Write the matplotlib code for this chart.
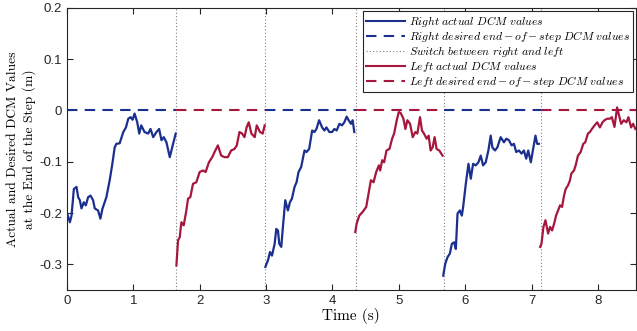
import numpy as np
import matplotlib
matplotlib.use("Agg")
import matplotlib.pyplot as plt
from matplotlib.lines import Line2D

plt.rcParams['mathtext.fontset'] = 'cm'
plt.rcParams['axes.unicode_minus'] = False
plt.rcParams['font.family'] = ['Liberation Sans', 'DejaVu Sans']

# switch instants (s)
switch_t = [1.64, 2.99, 4.35, 5.68, 7.14]
t_end = 8.57

# step 1 - right
r1_t = [0.005, 0.045, 0.07, 0.105, 0.145, 0.17, 0.195, 0.22, 0.255, 0.285, 0.32, 0.356, 0.395, 0.42,
        0.47, 0.505, 0.535, 0.595, 0.645, 0.685, 0.72, 0.745, 0.795, 0.85, 0.89, 0.925, 0.96, 0.99,
        1.02, 1.06, 1.09, 1.12, 1.17, 1.225, 1.26, 1.30, 1.35, 1.39, 1.425, 1.46, 1.50, 1.55, 1.60, 1.64]
r1_v = [-0.201, -0.218, -0.205, -0.153, -0.149, -0.169, -0.175, -0.191, -0.179, -0.185, -0.169, -0.166,
        -0.175, -0.191, -0.195, -0.211, -0.192, -0.169, -0.136, -0.104, -0.072, -0.065, -0.064, -0.042,
        -0.033, -0.016, -0.013, -0.018, -0.006, -0.023, -0.045, -0.029, -0.042, -0.045, -0.036, -0.052,
        -0.042, -0.036, -0.058, -0.052, -0.062, -0.091, -0.065, -0.045]

# step 2 - left
l1_t = [1.65, 1.675, 1.70, 1.725, 1.76, 1.80, 1.825, 1.86, 1.90, 1.95, 2.00, 2.05, 2.09, 2.14, 2.19,
        2.225, 2.275, 2.325, 2.375, 2.425, 2.475, 2.525, 2.56, 2.60, 2.64, 2.675, 2.71, 2.74, 2.78,
        2.83, 2.86, 2.91, 2.95, 2.98]
l1_v = [-0.302, -0.253, -0.247, -0.218, -0.224, -0.195, -0.172, -0.169, -0.143, -0.140, -0.120, -0.117,
        -0.120, -0.101, -0.091, -0.081, -0.068, -0.088, -0.091, -0.091, -0.078, -0.075, -0.068, -0.042,
        -0.045, -0.052, -0.032, -0.023, -0.045, -0.052, -0.029, -0.042, -0.045, -0.029]

# step 3 - right
r2_t = [2.99, 3.03, 3.06, 3.09, 3.13, 3.155, 3.18, 3.20, 3.23, 3.25, 3.29, 3.33, 3.36, 3.39, 3.43, 3.46,
        3.49, 3.53, 3.555, 3.58, 3.61, 3.65, 3.695, 3.73, 3.76, 3.80, 3.845, 3.88, 3.91, 3.955, 3.995,
        4.03, 4.065, 4.105, 4.145, 4.18, 4.215, 4.245, 4.28, 4.305, 4.33]
r2_v = [-0.305, -0.292, -0.276, -0.283, -0.260, -0.231, -0.234, -0.260, -0.266, -0.234, -0.175, -0.195,
        -0.179, -0.172, -0.149, -0.140, -0.120, -0.110, -0.094, -0.078, -0.081, -0.075, -0.039, -0.042,
        -0.036, -0.019, -0.033, -0.039, -0.033, -0.042, -0.042, -0.036, -0.039, -0.026, -0.029, -0.023,
        -0.012, -0.019, -0.026, -0.019, -0.042]

# step 4 - left
l2_t = [4.345, 4.365, 4.405, 4.455, 4.51, 4.545, 4.58, 4.62, 4.66, 4.70, 4.72, 4.75, 4.78, 4.815, 4.86,
        4.90, 4.93, 4.97, 5.00, 5.03, 5.07, 5.10, 5.13, 5.17, 5.21, 5.25, 5.28, 5.32, 5.35, 5.38, 5.42,
        5.45, 5.48, 5.51, 5.54, 5.57, 5.61, 5.66]
l2_v = [-0.237, -0.221, -0.205, -0.198, -0.188, -0.162, -0.136, -0.140, -0.120, -0.107, -0.117, -0.097,
        -0.101, -0.078, -0.075, -0.055, -0.045, -0.019, -0.003, -0.005, -0.016, -0.036, -0.019, -0.026,
        -0.052, -0.042, -0.045, -0.013, -0.039, -0.045, -0.055, -0.049, -0.078, -0.072, -0.052, -0.075,
        -0.078, -0.088]

# step 5 - right
r3_t = [5.67, 5.70, 5.735, 5.77, 5.80, 5.835, 5.86, 5.885, 5.92, 5.95, 5.97, 6.01, 6.05, 6.085, 6.12,
        6.16, 6.20, 6.235, 6.27, 6.31, 6.35, 6.385, 6.41, 6.45, 6.485, 6.535, 6.585, 6.62, 6.66, 6.70,
        6.735, 6.77, 6.81, 6.85, 6.885, 6.92, 6.95, 6.99, 7.02, 7.06, 7.085, 7.11]
r3_v = [-0.322, -0.299, -0.286, -0.279, -0.260, -0.257, -0.270, -0.201, -0.195, -0.205, -0.188, -0.143,
        -0.104, -0.133, -0.104, -0.107, -0.101, -0.088, -0.107, -0.101, -0.078, -0.049, -0.072, -0.078,
        -0.072, -0.052, -0.062, -0.055, -0.058, -0.068, -0.065, -0.081, -0.078, -0.084, -0.078, -0.094,
        -0.078, -0.101, -0.078, -0.049, -0.065, -0.065]

# step 6 - left
l3_t = [7.13, 7.15, 7.18, 7.21, 7.25, 7.28, 7.31, 7.34, 7.37, 7.40, 7.43, 7.46, 7.49, 7.515, 7.55, 7.58,
        7.60, 7.64, 7.665, 7.70, 7.74, 7.78, 7.81, 7.85, 7.88, 7.91, 7.95, 7.99, 8.03, 8.07, 8.10, 8.14,
        8.18, 8.21, 8.25, 8.29, 8.32, 8.35, 8.39, 8.43, 8.46, 8.50, 8.53, 8.565]
l3_v = [-0.266, -0.260, -0.227, -0.214, -0.240, -0.227, -0.234, -0.221, -0.205, -0.195, -0.185, -0.188,
        -0.166, -0.153, -0.146, -0.136, -0.123, -0.117, -0.107, -0.088, -0.081, -0.065, -0.062, -0.045,
        -0.042, -0.036, -0.029, -0.023, -0.033, -0.023, -0.019, -0.016, -0.016, -0.013, -0.032, 0.006,
        -0.010, -0.026, -0.019, -0.023, -0.013, -0.033, -0.026, -0.036]

blue = '#1a2f8e'
red = '#a6173d'
dash = (0, (5, 3.5))
dot = (0, (1, 2))

fig = plt.figure(figsize=(6.37, 3.31), dpi=100)
ax = fig.add_axes([0.105, 0.124, 0.893, 0.852])

# desired end-of-step value is 0, alternating right/left between switches
bounds = [0.0] + switch_t + [t_end]
for i in range(6):
    col = blue if i % 2 == 0 else red
    ax.plot([bounds[i], bounds[i + 1]], [0, 0], color=col, lw=1.5, ls=dash, zorder=2)

for t, v in [(r1_t, r1_v), (r2_t, r2_v), (r3_t, r3_v)]:
    ax.plot(t, v, color=blue, lw=1.6, zorder=3)
for t, v in [(l1_t, l1_v), (l2_t, l2_v), (l3_t, l3_v)]:
    ax.plot(t, v, color=red, lw=1.6, zorder=3)

for s in switch_t:
    ax.axvline(s, color='#808080', lw=0.8, ls=dot, zorder=1)

handles = [
    Line2D([], [], color=blue, lw=1.5),
    Line2D([], [], color=blue, lw=1.5, ls=dash),
    Line2D([], [], color='#808080', lw=0.8, ls=dot),
    Line2D([], [], color=red, lw=1.5),
    Line2D([], [], color=red, lw=1.5, ls=dash),
]
labels = [
    r'$Right\ actual\ DCM\ values$',
    r'$Right\ desired\ end-of-step\ DCM\ values$',
    r'$Switch\ between\ right\ and\ left$',
    r'$Left\ actual\ DCM\ values$',
    r'$Left\ desired\ end-of-step\ DCM\ values$',
]
leg = ax.legend(handles, labels, loc='upper right', fontsize=8.4, handlelength=3.3,
                fancybox=False, framealpha=1, edgecolor='#262626', borderpad=0.25,
                labelspacing=0.0, handletextpad=0.35, borderaxespad=0.25)
leg.get_frame().set_linewidth(0.8)

ax.set_xlim(0, t_end)
ax.set_ylim(-0.35, 0.2)
ax.set_xticks(range(0, 9))
ax.set_yticks([-0.3, -0.2, -0.1, 0, 0.1, 0.2])
ax.set_yticklabels(['-0.3', '-0.2', '-0.1', '0', '0.1', '0.2'])
ax.tick_params(direction='in', top=True, right=True, labelsize=9.5, colors='#262626', length=4)
for sp in ax.spines.values():
    sp.set_color('#262626')
    sp.set_linewidth(0.8)

ax.set_xlabel('Time (s)', fontname='cmr10', fontsize=11, labelpad=1)
ax.set_ylabel('Actual and Desired DCM Values\nat the End of the Step (m)', fontname='cmr10',
              fontsize=9.7, linespacing=1.3)
ax.yaxis.set_label_coords(-0.055, 0.5)

fig.savefig('out.png', dpi=100)
